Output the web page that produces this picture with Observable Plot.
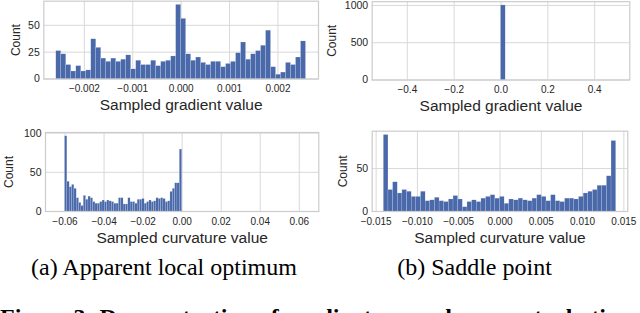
<!DOCTYPE html>
<html><head><meta charset="utf-8">
<script src="https://cdn.jsdelivr.net/npm/d3@7"></script>
<script src="https://cdn.jsdelivr.net/npm/@observablehq/plot@0.6"></script>
<style>
html,body{margin:0;padding:0;background:#fff;width:640px;height:313px;overflow:hidden}
body{position:relative}
.panel{position:absolute}
.panel svg{overflow:visible}
#captions{position:absolute;left:0;top:0}
</style></head><body>
<div id="a1" class="panel"></div>
<div id="b1" class="panel"></div>
<div id="a2" class="panel"></div>
<div id="b2" class="panel"></div>
<svg id="captions" width="640" height="313"></svg>
<script>
// ---------- data ----------
// (a) apparent local optimum, gradient histogram (50 bins)
const gradA_range = [-0.00258, 0.00258];
const gradA_counts = [26,23,13,7,12,7,8,37,29,19,16,19,16,18,22,9,17,13,13,17,12,16,17,21,69,
                      56,23,17,20,15,13,16,16,11,14,16,24,34,18,23,26,31,45,11,4,6,15,13,20,35];
const gradA_xticks = [-0.002,-0.001,0,0.001,0.002];
const gradA_yticks = [0,25,50];

// (b) saddle point, gradient histogram (50 bins, all samples in one bin)
const gradB_range = [-0.5, 0.5];
const gradB_counts = [0,0,0,0,0,0,0,0,0,0,0,0,0,0,0,0,0,0,0,0,0,0,0,0,0,
                      1000,0,0,0,0,0,0,0,0,0,0,0,0,0,0,0,0,0,0,0,0,0,0,0,0];
const gradB_xticks = [-0.4,-0.2,0,0.2,0.4];
const gradB_yticks = [0,500,1000];

// (a) curvature histogram (50 bins)
const curvA_range = [-0.0600, 0.0000];
const curvA_counts = [96,38,31,34,29,17,11,7,20,15,19,17,12,10,10,12,14,12,14,13,12,10,10,17,17,
                      9,9,17,12,12,10,15,15,16,10,12,14,12,13,17,16,17,16,12,13,25,29,36,36,79];
const curvA_xticks = [-0.06,-0.04,-0.02,0,0.02,0.04,0.06];
const curvA_yticks = [0,50,100];
const curvA_xlim = [-0.07, 0.07];

// (b) curvature histogram (50 bins)
const curvB_range = [-0.01407, 0.01407];
const curvB_counts = [89,25,34,21,25,23,17,17,23,12,13,16,12,11,14,18,14,5,11,13,11,15,17,19,15,
                      17,9,14,13,15,13,12,15,19,17,12,19,12,11,15,15,14,17,21,23,25,30,30,41,82];
const curvB_xticks = [-0.015,-0.010,-0.005,0,0.005,0.010,0.015];
const curvB_yticks = [0,50];

const captionA = "(a) Apparent local optimum";
const captionB = "(b) Saddle point";
const figCaption = "Figure 3: Demonstration of gradient around our perturbation of the point";

// ---------- drawing ----------
const BAR = "#4a69aa", GRID = "#d9d9d9", FRAME = "#cccccc", INK = "#262626";

function panel(id, o) {
  const [sx, sy, sw, sh] = o.svgBox;
  const [px0, px1, py0, py1] = o.plotBox;
  const n = o.counts.length, step = (o.range[1] - o.range[0]) / n;
  const bins = o.counts.map((c, i) => ({x1: o.range[0] + i * step, x2: o.range[0] + (i + 1) * step, y: c}));
  const yMax = d3.max(o.counts) * 1.05;
  const xDomain = o.xlim || [o.range[0] - 0.05 * (o.range[1] - o.range[0]), o.range[1] + 0.05 * (o.range[1] - o.range[0])];
  const el = document.getElementById(id);
  el.style.left = sx + "px"; el.style.top = sy + "px";
  const chart = Plot.plot({
    width: sw, height: sh,
    marginLeft: px0 - sx, marginRight: sx + sw - px1,
    marginTop: py0 - sy, marginBottom: sy + sh - py1,
    style: {fontFamily: "'Liberation Sans', Arial, sans-serif", color: INK, background: "transparent"},
    x: {domain: xDomain},
    y: {domain: [0, yMax]},
    marks: [
      Plot.gridX(o.xticks, {stroke: GRID, strokeOpacity: 1, strokeWidth: 1}),
      Plot.gridY(o.yticks, {stroke: GRID, strokeOpacity: 1, strokeWidth: 1}),
      Plot.frame({stroke: FRAME, strokeWidth: 1.2}),
      Plot.rectY(bins, {x1: "x1", x2: "x2", y: "y", fill: BAR, stroke: "#ffffff", strokeWidth: 0.3, strokeOpacity: 0.5}),
      Plot.axisX(o.xticks, {tickSize: 0, tickPadding: 6, tickFormat: o.xfmt, fontSize: 10, label: null, fill: INK}),
      Plot.axisY(o.yticks, {tickSize: 0, tickPadding: 4, tickFormat: d3.format("d"), fontSize: 10.5, label: null, fill: INK}),
      Plot.text([o.xlabel], {text: d => d, frameAnchor: "bottom", lineAnchor: "middle", textAnchor: "middle", dy: 26.5, fontSize: 15.5, fill: INK}),
      Plot.text(["Count"], {text: d => d, frameAnchor: "left", lineAnchor: "middle", textAnchor: "middle", dx: o.ylabelDx, rotate: -90, fontSize: 12, fill: INK})
    ]
  });
  el.appendChild(chart);
}

panel("a1", {svgBox: [0, -20, 320, 135], plotBox: [43.3, 318, 0.7, 78.5],
  counts: gradA_counts, range: gradA_range, xticks: gradA_xticks, yticks: gradA_yticks,
  xfmt: d3.format(".3f"), xlabel: "Sampled gradient value", ylabelDx: -28});
panel("b1", {svgBox: [320, -20, 320, 135], plotBox: [371.7, 629.3, 1.2, 79.5],
  counts: gradB_counts, range: gradB_range, xticks: gradB_xticks, yticks: gradB_yticks,
  xfmt: d3.format(".1f"), xlabel: "Sampled gradient value", ylabelDx: -40.5});
panel("a2", {svgBox: [0, 115, 320, 135], plotBox: [45, 318.3, 132, 211],
  counts: curvA_counts, range: curvA_range, xlim: curvA_xlim, xticks: curvA_xticks, yticks: curvA_yticks,
  xfmt: d3.format(".2f"), xlabel: "Sampled curvature value", ylabelDx: -36});
panel("b2", {svgBox: [320, 115, 320, 135], plotBox: [371.7, 627.3, 130.7, 211],
  counts: curvB_counts, range: curvB_range, xticks: curvB_xticks, yticks: curvB_yticks,
  xfmt: d3.format(".3f"), xlabel: "Sampled curvature value", ylabelDx: -29.5});

const cap = d3.select("#captions");
cap.append("text").attr("x", 164).attr("y", 275).attr("text-anchor", "middle")
  .attr("font-family", "'Liberation Serif', 'Times New Roman', serif").attr("font-size", 24).text(captionA);
cap.append("text").attr("x", 474.5).attr("y", 275).attr("text-anchor", "middle")
  .attr("font-family", "'Liberation Serif', 'Times New Roman', serif").attr("font-size", 24).text(captionB);
cap.append("text").attr("x", 0).attr("y", 324.5)
  .attr("font-family", "'Liberation Serif', 'Times New Roman', serif").attr("font-size", 24).attr("font-weight", "bold").text(figCaption);
</script>
</body></html>
